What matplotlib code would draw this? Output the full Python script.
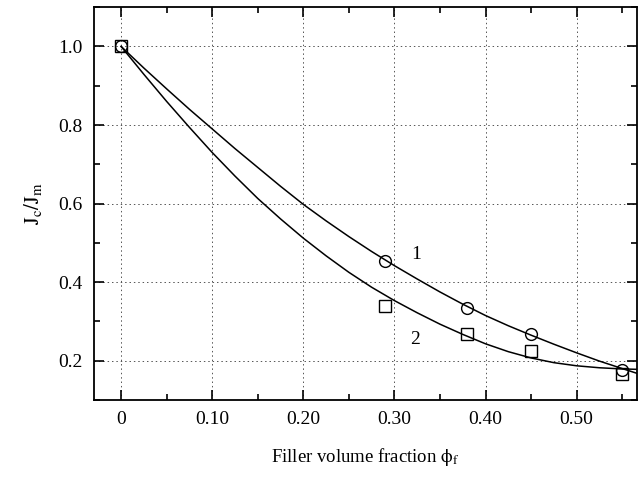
import matplotlib
matplotlib.use('Agg')
import matplotlib.pyplot as plt
from matplotlib.ticker import MultipleLocator, FixedLocator

plt.rcParams['font.family'] = ['Liberation Serif', 'DejaVu Serif']
plt.rcParams['mathtext.fontset'] = 'stix'

# measured points
phi_pts = [0.0, 0.29, 0.38, 0.45, 0.55]
circ_vals = [1.0, 0.454, 0.335, 0.267, 0.176]
sq_vals = [1.0, 0.339, 0.267, 0.225, 0.166]

# fitted curves
phi_curve = [0.0, 0.025, 0.05, 0.075, 0.10, 0.125, 0.15, 0.175, 0.20, 0.225, 0.25, 0.275,
             0.30, 0.325, 0.35, 0.375, 0.40, 0.425, 0.45, 0.475, 0.50, 0.525, 0.55, 0.566]
curve1 = [1.0, 0.945, 0.892, 0.840, 0.790, 0.740, 0.692, 0.644, 0.598, 0.556, 0.516, 0.478,
          0.442, 0.408, 0.375, 0.344, 0.315, 0.289, 0.265, 0.242, 0.220, 0.199, 0.180, 0.168]
curve2 = [1.0, 0.929, 0.860, 0.794, 0.730, 0.670, 0.613, 0.561, 0.512, 0.467, 0.425, 0.387,
          0.353, 0.322, 0.293, 0.267, 0.243, 0.223, 0.207, 0.195, 0.187, 0.182, 0.179, 0.178]

x_ticks = [0, 0.10, 0.20, 0.30, 0.40, 0.50]
x_labels = ['0', '0.10', '0.20', '0.30', '0.40', '0.50']
y_ticks = [0.2, 0.4, 0.6, 0.8, 1.0]
y_labels = ['0.2', '0.4', '0.6', '0.8', '1.0']

fig = plt.figure(figsize=(6.38, 4.79), dpi=100)
ax = fig.add_axes([0.147, 0.165, 0.851, 0.82])

ax.plot(phi_curve, curve1, color='black', lw=1.1)
ax.plot(phi_curve, curve2, color='black', lw=1.1)
ax.plot(phi_pts, circ_vals, 'o', ms=8.5, mfc='none', mec='black', mew=1.0, ls='none')
ax.plot(phi_pts, sq_vals, 's', ms=8.5, mfc='none', mec='black', mew=1.0, ls='none')

ax.text(0.324, 0.47, '1', fontsize=14, ha='center', va='center')
ax.text(0.323, 0.254, '2', fontsize=14, ha='center', va='center')

ax.set_xlim(-0.03, 0.566)
ax.set_ylim(0.1, 1.1)
ax.xaxis.set_major_locator(FixedLocator(x_ticks))
ax.set_xticklabels(x_labels)
ax.xaxis.set_minor_locator(MultipleLocator(0.05))
ax.yaxis.set_major_locator(FixedLocator(y_ticks))
ax.set_yticklabels(y_labels)
ax.yaxis.set_minor_locator(MultipleLocator(0.1))

ax.tick_params(which='both', direction='in', top=True, right=True, labelsize=14, width=1.2)
ax.tick_params(which='major', length=7, pad=8)
ax.tick_params(which='minor', length=4)
for s in ax.spines.values():
    s.set_linewidth(1.3)

ax.grid(True, which='major', color='#555555', ls=(0, (1.5, 3)), lw=0.7)

ax.set_xlabel(r'Filler volume fraction $\mathrm{\phi_f}$', fontsize=13.5, labelpad=13)
ax.set_ylabel(r'$\mathrm{J_c/J_m}$', fontsize=15, labelpad=10)

fig.savefig('out.png', dpi=100)
